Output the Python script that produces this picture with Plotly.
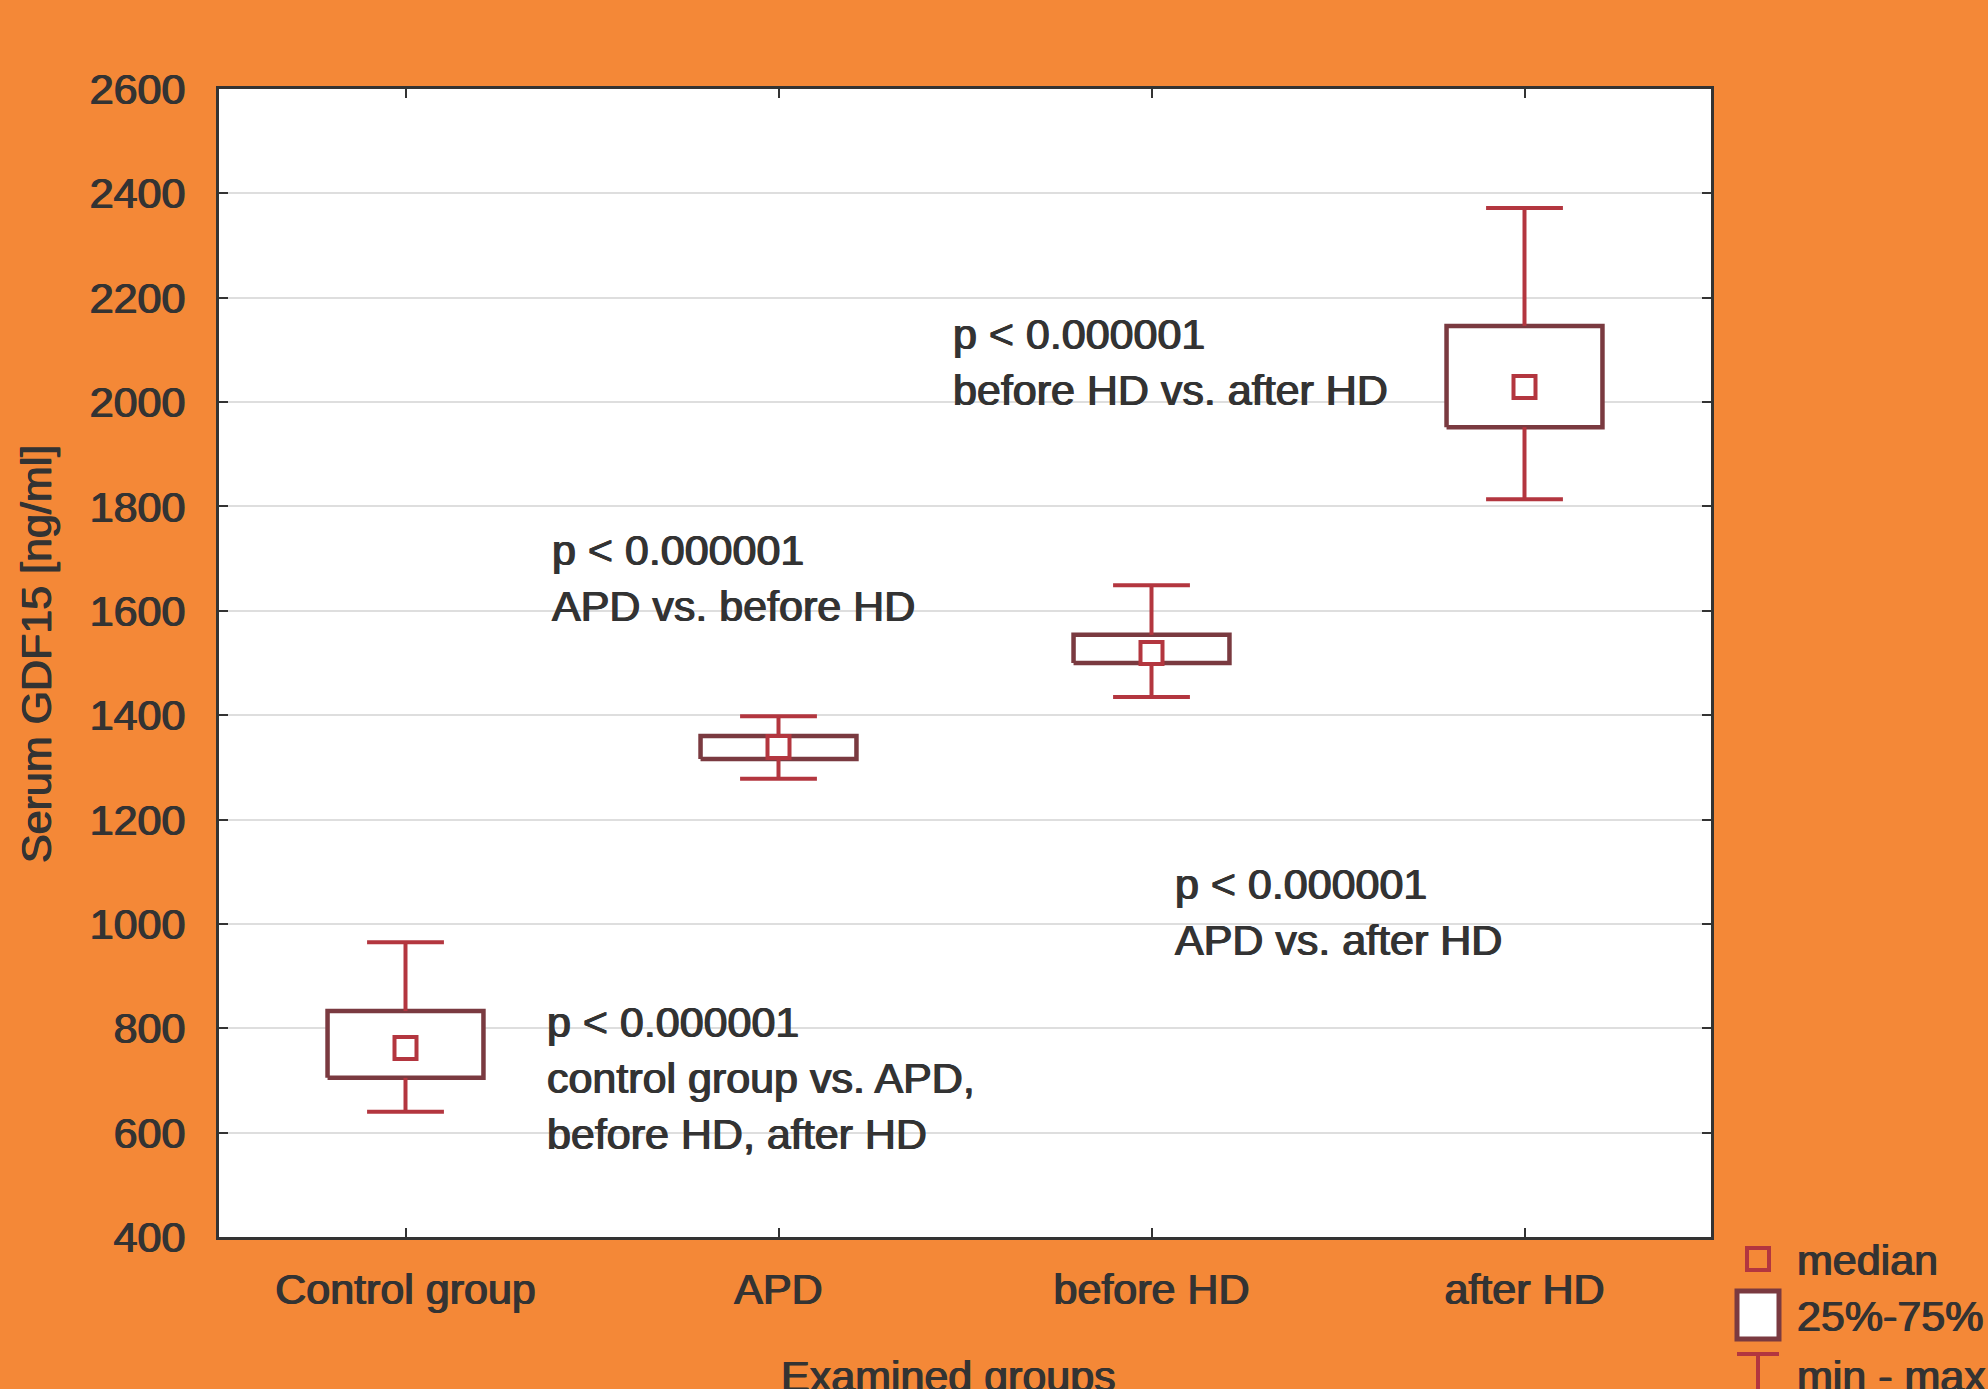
import plotly.graph_objects as go

# ---------------- data ----------------
categories = ["Control group", "APD", "before HD", "after HD"]
mins    = [640, 1278, 1435, 1814]
q1s     = [705, 1316, 1500, 1952]
medians = [762, 1339, 1519, 2029]
q3s     = [833, 1360, 1554, 2146]
maxs    = [965, 1398, 1649, 2372]

y_ticks = [400, 600, 800, 1000, 1200, 1400, 1600, 1800, 2000, 2200, 2400, 2600]

notes = [
    ("p < 0.000001<br>before HD vs. after HD", 1.462, 2077),
    ("p < 0.000001<br>APD vs. before HD", 0.387, 1663),
    ("p < 0.000001<br>APD vs. after HD", 2.058, 1023),
    ("p < 0.000001<br>control group vs. APD,<br>before HD, after HD", 0.374, 705),
]

# ---------------- style ----------------
W, H = 1988, 1389
L, R, T, B = 219, 1711, 89, 1237
ORANGE = "#F48837"
BOXC = "#7A3A40"
REDC = "#B3363F"
TXT = "#333333"
FONT = "Liberation Sans, Arial, sans-serif"
FS = 43
SHADOW = "0.7px 0 0 #333333, -0.7px 0 0 #333333"
BOX_HW = 0.209
CAP_HW = 0.103


def px(x):
    return (x - L) / (R - L)


def py(y):
    return (B - y) / (B - T)


def tfont():
    return dict(family=FONT, size=FS, color=TXT, shadow=SHADOW)


fig = go.Figure()

# boxes
for i in range(len(categories)):
    fig.add_trace(go.Scatter(
        x=[i - BOX_HW, i + BOX_HW, i + BOX_HW, i - BOX_HW, i - BOX_HW],
        y=[q1s[i], q1s[i], q3s[i], q3s[i], q1s[i]],
        mode="lines", fill="toself", fillcolor="white",
        line=dict(color=BOXC, width=4.5), hoverinfo="skip", showlegend=False,
    ))

# whiskers
wx, wy = [], []
for i in range(len(categories)):
    wx += [i, i, None, i, i, None, i - CAP_HW, i + CAP_HW, None, i - CAP_HW, i + CAP_HW, None]
    wy += [q3s[i], maxs[i], None, mins[i], q1s[i], None, maxs[i], maxs[i], None, mins[i], mins[i], None]
fig.add_trace(go.Scatter(x=wx, y=wy, mode="lines", line=dict(color=REDC, width=4),
                         hoverinfo="skip", showlegend=False))

# medians
fig.add_trace(go.Scatter(
    x=list(range(len(categories))), y=medians, mode="markers",
    marker=dict(symbol="square", size=22, color="white", line=dict(color=REDC, width=4)),
    showlegend=False,
))

annotations = []
for text, x, y in notes:
    annotations.append(dict(x=x, y=y, xref="x", yref="y", text=text, showarrow=False,
                            xanchor="left", yanchor="middle", align="left",
                            font=tfont()))

# axis titles
annotations.append(dict(x=px(36), y=py(654), xref="paper", yref="paper",
                        text="Serum GDF15 [ng/ml]", textangle=-90, showarrow=False,
                        xanchor="center", yanchor="middle", font=tfont()))
annotations.append(dict(x=px(948), y=py(1376), xref="paper", yref="paper",
                        text="Examined groups", showarrow=False,
                        xanchor="center", yanchor="middle", font=tfont()))

# legend texts
for label, yy in [("median", 1260), ("25%-75%", 1316), ("min - max", 1376)]:
    annotations.append(dict(x=px(1795), y=py(yy), xref="paper", yref="paper",
                            text=label, showarrow=False, xanchor="left", yanchor="middle",
                            font=tfont()))

shapes = [
    # median symbol
    dict(type="rect", xref="paper", yref="paper", x0=px(1747), x1=px(1769), y0=py(1248), y1=py(1270),
         line=dict(color=REDC, width=4), fillcolor=ORANGE),
    # box symbol
    dict(type="rect", xref="paper", yref="paper", x0=px(1737), x1=px(1779), y0=py(1291), y1=py(1339),
         line=dict(color=BOXC, width=5), fillcolor="white"),
    # whisker symbol
    dict(type="line", xref="paper", yref="paper", x0=px(1737), x1=px(1779), y0=py(1354), y1=py(1354),
         line=dict(color=REDC, width=4)),
    dict(type="line", xref="paper", yref="paper", x0=px(1758), x1=px(1758), y0=py(1354), y1=py(1400),
         line=dict(color=REDC, width=4)),
]

fig.update_layout(
    width=W, height=H,
    margin=dict(l=L, r=W - R, t=T, b=H - B, pad=0),
    paper_bgcolor=ORANGE, plot_bgcolor="white",
    font=tfont(),
    showlegend=False,
    annotations=annotations,
    shapes=shapes,
    xaxis=dict(
        range=[-0.5, 3.5], tickvals=list(range(len(categories))), ticktext=categories,
        showgrid=False, zeroline=False,
        showline=True, linecolor=TXT, linewidth=3, mirror="allticks",
        ticks="inside", ticklen=9, tickwidth=2, tickcolor=TXT,
        ticklabelstandoff=12,
        tickfont=tfont(),
    ),
    yaxis=dict(
        range=[400, 2600], tickvals=y_ticks, ticktext=[str(v) for v in y_ticks],
        showgrid=True, gridcolor="#DEDEDE", gridwidth=2, zeroline=False,
        showline=True, linecolor=TXT, linewidth=3, mirror="allticks",
        ticks="inside", ticklen=9, tickwidth=2, tickcolor=TXT,
        ticklabelstandoff=22,
        tickfont=tfont(),
    ),
)

fig.write_html("out.html", config={"displayModeBar": False},
               post_script="document.body.style.margin='0px';")
